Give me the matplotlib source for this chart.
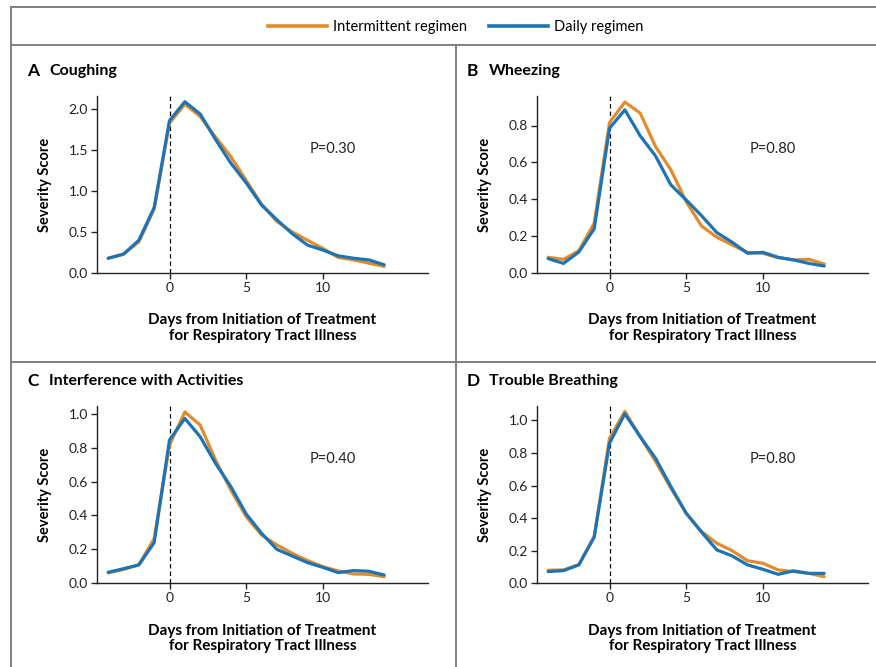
import matplotlib
matplotlib.use("Agg")
import matplotlib.pyplot as plt
from matplotlib.lines import Line2D
import numpy as np

plt.rcParams['font.family'] = ['Lato', 'DejaVu Sans']

days = list(range(-4, 15))

cough_intermittent = [0.18, 0.23, 0.38, 0.78, 1.83, 2.06, 1.91, 1.66, 1.42, 1.13, 0.84, 0.63, 0.50, 0.40, 0.30, 0.19, 0.16, 0.12, 0.08]
cough_daily        = [0.18, 0.23, 0.40, 0.80, 1.86, 2.09, 1.94, 1.63, 1.34, 1.10, 0.83, 0.65, 0.48, 0.34, 0.28, 0.21, 0.18, 0.16, 0.10]

wheeze_intermittent = [0.085, 0.074, 0.121, 0.27, 0.816, 0.927, 0.867, 0.686, 0.56, 0.387, 0.255, 0.194, 0.152, 0.112, 0.107, 0.083, 0.071, 0.074, 0.049]
wheeze_daily        = [0.078, 0.052, 0.114, 0.24, 0.785, 0.885, 0.744, 0.635, 0.478, 0.396, 0.311, 0.219, 0.167, 0.107, 0.112, 0.085, 0.071, 0.052, 0.038]

activ_intermittent = [0.061, 0.082, 0.11, 0.263, 0.815, 1.01, 0.933, 0.727, 0.55, 0.393, 0.285, 0.226, 0.177, 0.134, 0.098, 0.073, 0.055, 0.053, 0.039]
activ_daily        = [0.065, 0.086, 0.108, 0.24, 0.845, 0.972, 0.864, 0.707, 0.57, 0.409, 0.295, 0.20, 0.161, 0.122, 0.094, 0.063, 0.075, 0.071, 0.049]

breath_intermittent = [0.08, 0.082, 0.115, 0.287, 0.89, 1.055, 0.90, 0.748, 0.584, 0.43, 0.318, 0.246, 0.20, 0.139, 0.123, 0.082, 0.072, 0.061, 0.041]
breath_daily        = [0.072, 0.078, 0.113, 0.283, 0.86, 1.04, 0.90, 0.768, 0.594, 0.43, 0.314, 0.205, 0.168, 0.113, 0.086, 0.055, 0.076, 0.061, 0.061]

panel_letters = ["A", "B", "C", "D"]
panel_titles = ["Coughing", "Wheezing", "Interference with Activities", "Trouble Breathing"]
p_values = ["P=0.30", "P=0.80", "P=0.40", "P=0.80"]
yticks_list = [[0.0, 0.5, 1.0, 1.5, 2.0],
               [0.0, 0.2, 0.4, 0.6, 0.8],
               [0.0, 0.2, 0.4, 0.6, 0.8, 1.0],
               [0.0, 0.2, 0.4, 0.6, 0.8, 1.0]]
ytops = [2.16, 0.96, 1.047, 1.09]
xticks = [0, 5, 10]
series = [(cough_intermittent, cough_daily), (wheeze_intermittent, wheeze_daily),
          (activ_intermittent, activ_daily), (breath_intermittent, breath_daily)]

ORANGE = "#E38B2C"
BLUE = "#1C74B4"
GREY = "#808080"

W, H = 876, 667
fig = plt.figure(figsize=(W / 100, H / 100), dpi=100)

def fx(px):
    return px / W

def fy(py):
    return 1 - py / H

# axes positions in pixels: (left, top, right, bottom)
axpos = [(97, 96, 428, 273), (537, 96, 868, 273),
         (97, 405.7, 428, 583.3), (537, 405.7, 868, 583.3)]
title_pos = [(27, 71), (467, 71), (27, 381), (467, 381)]

for i in range(4):
    l, t, r, b = axpos[i]
    ax = fig.add_axes([fx(l), fy(b), fx(r - l), (b - t) / H])
    inter, daily = series[i]
    ax.plot(days, inter, color=ORANGE, lw=2.3, solid_joinstyle='round', solid_capstyle='round', zorder=3)
    ax.plot(days, daily, color=BLUE, lw=2.3, solid_joinstyle='round', solid_capstyle='round', zorder=4)
    ax.axvline(0, color='black', lw=0.9, ls=(0, (3.5, 2.5)), zorder=2)
    ax.set_xlim(-4.73, 16.86)
    ax.set_ylim(0, ytops[i])
    ax.set_xticks(xticks)
    ax.set_yticks(yticks_list[i])
    ax.set_yticklabels([f"{v:.1f}" for v in yticks_list[i]])
    ax.spines['top'].set_visible(False)
    ax.spines['right'].set_visible(False)
    for s in ['left', 'bottom']:
        ax.spines[s].set_linewidth(1.0)
        ax.spines[s].set_color('#222222')
    ax.tick_params(direction='out', length=4.5, width=1.0, color='#222222',
                   labelsize=10, pad=2, labelcolor='#222222')
    ax.set_ylabel("Severity Score", fontsize=10.5, fontweight='bold', labelpad=12)
    ax.set_xlabel("Days from Initiation of Treatment\nfor Respiratory Tract Illness",
                  fontsize=11, fontweight='bold', labelpad=14, linespacing=1.15)
    ax.text(0.713, 0.70, p_values[i], transform=ax.transAxes, ha='center', va='center',
            fontsize=10.5, color='#222222')
    tx, ty = title_pos[i]
    fig.text(fx(tx), fy(ty), panel_letters[i], fontsize=12.5, fontweight='bold',
             ha='left', va='center')
    fig.text(fx(tx + 22), fy(ty), panel_titles[i], fontsize=11.5, fontweight='bold',
             ha='left', va='center')

# frame lines
def hline(y, x0, x1):
    fig.add_artist(Line2D([fx(x0), fx(x1)], [fy(y), fy(y)], color=GREY, lw=1.4,
                          transform=fig.transFigure))

def vline(x, y0, y1):
    fig.add_artist(Line2D([fx(x), fx(x)], [fy(y0), fy(y1)], color=GREY, lw=1.4,
                          transform=fig.transFigure))

hline(7, 11, W)
hline(45, 11, W)
hline(362, 11, W)
vline(11, 7, H)
vline(456, 45, H)

handles = [Line2D([], [], color=ORANGE, lw=2.6), Line2D([], [], color=BLUE, lw=2.6)]
fig.legend(handles, ["Intermittent regimen", "Daily regimen"], ncol=2, loc='center',
           bbox_to_anchor=(fx(456), fy(27.5)), frameon=False, fontsize=10.5,
           handlelength=4.0, handletextpad=0.45, columnspacing=1.5)

fig.savefig("out.png", dpi=100)
